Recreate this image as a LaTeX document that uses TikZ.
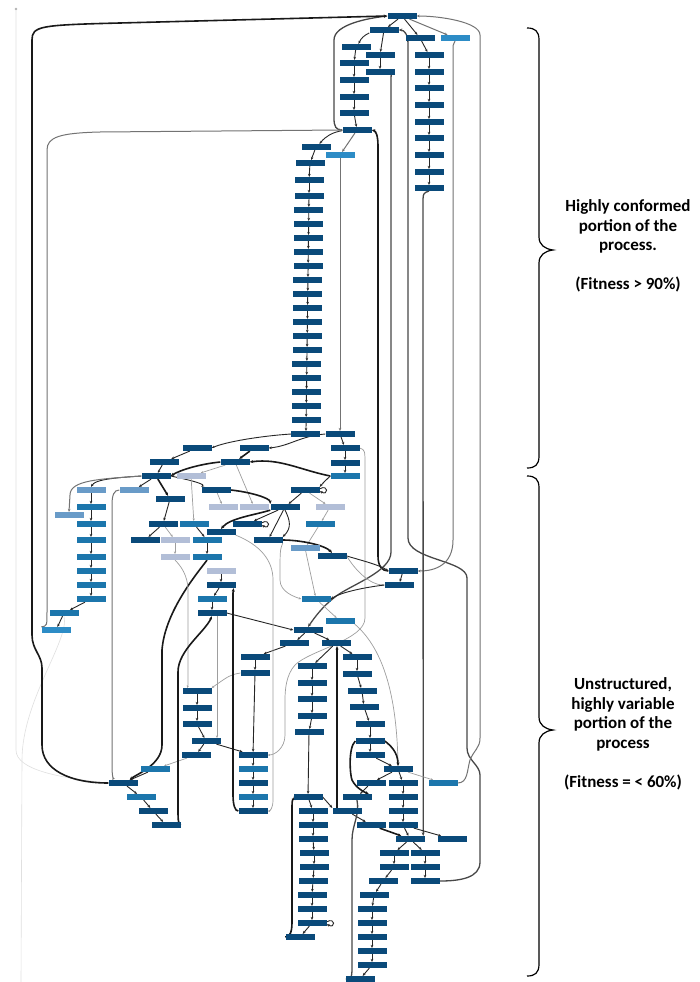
\documentclass[tikz,border=0pt]{standalone}
\usepackage{fontspec}
\newfontfamily\carl{Carlito}
\usetikzlibrary{arrows.meta,backgrounds}
\definecolor{cdk}{RGB}{10,74,122}
\definecolor{cmd}{RGB}{28,118,172}
\definecolor{clb}{RGB}{45,140,198}
\definecolor{cst}{RGB}{105,155,200}
\definecolor{clg}{RGB}{178,190,215}
\begin{document}
\begin{tikzpicture}[x=1pt,y=-1pt,
 box/.style={rectangle,minimum width=29pt,minimum height=5.8pt,inner sep=0pt},
 dk/.style={box,fill=cdk}, md/.style={box,fill=cmd}, lb/.style={box,fill=clb},
 st/.style={box,fill=cst}, lg/.style={box,fill=clg},
 ea/.style={-{Stealth[length=3pt,width=2.6pt]},line width=0.9pt,black!85},
 eb/.style={-{Stealth[length=3.5pt,width=3pt]},line width=1.6pt,black!90},
 ed/.style={-{Stealth[length=3.5pt,width=3pt]},line width=1.3pt,black!72},
 eg/.style={-{Stealth[length=3pt,width=2.6pt]},line width=1pt,black!55},
 el/.style={-{Stealth[length=2.5pt,width=2.2pt]},line width=0.7pt,black!38},
 ef/.style={line width=0.6pt,black!12},
 brace/.style={line width=1.2pt,black},
 lbl/.style={font=\carl\bfseries\fontsize{17}{19.5}\selectfont,align=center}]
\useasboundingbox (0,0) rectangle (700,982);
% ---------------- nodes: top part
\node[dk] (n1) at (402,16) {};
\node[dk] (n2) at (384,30) {};
\node[dk] (n3) at (420,38) {};
\node[lb] (n4) at (455,38) {};
\node[dk] (n5) at (356,47) {};
\node[dk] (n6) at (380,55) {};
\node[dk] (n7) at (429,55) {};
\node[dk] (n8) at (354,63) {};
\node[dk] (n9) at (380,72) {};
\node[dk] (n10) at (429,72) {};
\node[dk] (n11) at (354,80) {};
\node[dk] (n12) at (429,88) {};
\node[dk] (n13) at (354,97) {};
\node[dk] (n14) at (429,105) {};
\node[dk] (n15) at (354,113) {};
\node[dk] (n16) at (429,122) {};
\node[dk] (n17) at (357,130) {};
\node[dk] (n18) at (429,138) {};
\node[dk] (n19) at (316,147) {};
\node[lb] (n20) at (340,155) {};
\node[dk] (n21) at (429,155) {};
\node[dk] (n22) at (310,163) {};
\node[dk] (n23) at (429,172) {};
\node[dk] (n24) at (309,180) {};
\node[dk] (n25) at (429,188) {};
\foreach \i in {1,...,18} {\node[dk] (c\i) at ({309-0.18*(\i-1)},{196+14*(\i-1)}) {};}
\node[dk] (n26) at (340,434) {};
\node[dk] (n27) at (345,448) {};
\node[dk] (n28) at (345,463) {};
\node[md] (n29) at (345,476) {};
% ---------------- nodes: lower part
\node[dk] (m1) at (197,448) {};
\node[dk] (m2) at (254,448) {};
\node[dk] (m3) at (164,462) {};
\node[dk] (m4) at (235,462) {};
\node[dk] (m5) at (156,476) {};
\node[lg] (m6) at (191,476) {};
\node[st] (m7) at (91,490) {};
\node[st] (m8) at (134,490) {};
\node[dk] (m9) at (216,490) {};
\node[dk] (m10) at (305,490) {};
\node[dk] (m11) at (170,499) {};
\node[md] (m12) at (91,507) {};
\node[lg] (m13) at (223,507) {};
\node[lg] (m14) at (254,507) {};
\node[dk] (m15) at (285,507) {};
\node[lg] (m16) at (330,507) {};
\node[st] (m17) at (69,515) {};
\node[md] (m18) at (91,524) {};
\node[dk] (m19) at (163,524) {};
\node[md] (m20) at (194,524) {};
\node[dk] (m21) at (247,524) {};
\node[md] (m22) at (320,524) {};
\node[dk] (m23) at (221,532) {};
\node[md] (m24) at (91,540) {};
\node[dk] (m25) at (145,540) {};
\node[lg] (m26) at (175,540) {};
\node[md] (m27) at (207,540) {};
\node[dk] (m28) at (268,540) {};
\node[st] (m29) at (305,548) {};
\node[dk] (m30) at (332,556) {};
\node[md] (m31) at (91,557) {};
\node[lg] (m32) at (175,557) {};
\node[md] (m33) at (207,557) {};
\node[md] (m34) at (91,571) {};
\node[lg] (m35) at (221,571) {};
\node[dk] (m36) at (403,571) {};
\node[md] (m37) at (91,585) {};
\node[dk] (m38) at (221,585) {};
\node[dk] (m39) at (399,585) {};
\node[md] (m40) at (91,599) {};
\node[md] (m41) at (212,599) {};
\node[md] (m42) at (316,599) {};
\node[md] (m43) at (64,613) {};
\node[dk] (m44) at (212,613) {};
\node[lb] (m45) at (56,630) {};
\node[md] (m46) at (340,621) {};
\node[dk] (m47) at (308,630) {};
\node[dk] (m48) at (294,643) {};
\node[dk] (m49) at (336,643) {};
\node[dk] (m50) at (255,657) {};
\node[dk] (m51) at (357,657) {};
\node[dk] (m52) at (312,666) {};
\node[dk] (m53) at (357,674) {};
\node[dk] (m54) at (255,673) {};
\node[dk] (m55) at (312,683) {};
\node[dk] (m56) at (362,691) {};
\node[dk] (m57) at (197,691) {};
\node[dk] (m58) at (312,699) {};
\node[dk] (m59) at (364,707) {};
\node[dk] (m60) at (197,708) {};
\node[dk] (m61) at (312,716) {};
\node[dk] (m62) at (370,724) {};
\node[dk] (m63) at (197,724) {};
\node[dk] (m64) at (309,732) {};
\node[dk] (m65) at (370,741) {};
\node[dk] (m66) at (206,741) {};
\node[dk] (m67) at (196,755) {};
\node[dk] (m68) at (253,755) {};
\node[dk] (m69) at (370,755) {};
\node[md] (m70) at (155,769) {};
\node[md] (m71) at (253,769) {};
\node[dk] (m72) at (398,769) {};
\node[dk] (m73) at (123,783) {};
\node[dk] (m74) at (253,783) {};
\node[dk] (m75) at (371,783) {};
\node[dk] (m76) at (403,783) {};
\node[md] (m77) at (443,783) {};
\node[md] (m78) at (141,797) {};
\node[md] (m79) at (253,797) {};
\node[dk] (m80) at (308,797) {};
\node[dk] (m81) at (357,797) {};
\node[dk] (m82) at (403,797) {};
\node[dk] (m83) at (153,811) {};
\node[dk] (m84) at (253,811) {};
\node[dk] (m85) at (313,811) {};
\node[dk] (m86) at (347,811) {};
\node[dk] (m87) at (403,811) {};
\node[dk] (m88) at (166,825) {};
\node[dk] (m89) at (313,825) {};
\node[dk] (m90) at (371,825) {};
\node[dk] (m91) at (403,825) {};
\node[dk] (m92) at (313,839) {};
\node[dk] (m93) at (410,839) {};
\node[dk] (m94) at (452,839) {};
\node[dk] (m95) at (314,853) {};
\node[dk] (m96) at (394,853) {};
\node[dk] (m97) at (425,853) {};
\node[dk] (m98) at (314,867) {};
\node[dk] (m99) at (394,867) {};
\node[dk] (m100) at (425,867) {};
\node[dk] (m101) at (313,881) {};
\node[dk] (m102) at (383,881) {};
\node[dk] (m103) at (425,881) {};
\node[dk] (m104) at (312,895) {};
\node[dk] (m105) at (374,895) {};
\node[dk] (m106) at (312,909) {};
\node[dk] (m107) at (372,909) {};
\node[dk] (m108) at (312,923) {};
\node[dk] (m109) at (372,923) {};
\node[dk] (m110) at (300,937) {};
\node[dk] (m111) at (372,937) {};
\node[dk] (m112) at (372,951) {};
\node[dk] (m113) at (372,965) {};
\node[dk] (m114) at (360,979) {};
\node[circle,fill=black!30,inner sep=0pt,minimum size=2.6pt] (dot) at (16,9) {};
\coordinate (fend) at (21,982);
% ---------------- labels and braces
\node[lbl] (t1) at (628,246) {Highly conformed\\portion of the\\process.\\[19.5pt](Fitness > 90\%)};
\node[lbl] (t2) at (623,734) {Unstructured,\\highly variable\\portion of the\\process\\[19.5pt](Fitness = < 60\%)};
\draw[brace] (527,28) .. controls (535,28) and (539,31) .. (539,40) -- (539,237) .. controls (539,245) and (545,249) .. (553,250) .. controls (545,251) and (539,255) .. (539,263) -- (539,456) .. controls (539,465) and (535,468) .. (527,468);
\draw[brace] (527,476) .. controls (535,476) and (539,479) .. (539,488) -- (539,717) .. controls (539,725) and (545,729) .. (553,730) .. controls (545,731) and (539,735) .. (539,743) -- (539,964) .. controls (539,973) and (535,976) .. (527,976);
% ---------------- connectors (behind nodes)
\begin{pgfonlayer}{background}
\fill[white] (0,0) rectangle (700,982);
\draw[ef] (dot) -- (16,750) .. controls (16,770) and (60,778) .. (m73.west);
\draw[ef] (m43.south) .. controls (70,640) and (22,700) .. (22,760) -- (fend);
% top
\draw[ea] (n1) -- (n2);
\draw[ea] (n1) -- (n3);
\draw[eg] (n1) -- (n4);
\draw[ea] (n2) to[bend right=20] (n5);
\draw[ea] (n2) -- (n6);
\foreach \a/\b in {n5/n8,n8/n11,n11/n13,n13/n15,n15/n17,n6/n9,n3/n7,n7/n10,n10/n12,n12/n14,n14/n16,n16/n18,n18/n21,n21/n23,n23/n25,n19/n22,n22/n24,n24/c1,n26/n27,n27/n28,n28/n29}
  \draw[ea] (\a) -- (\b);
\foreach \i [evaluate=\i as \j using int(\i+1)] in {1,...,17} \draw[ea] (c\i) -- (c\j);
\draw[ea] (n17) to[bend right=20] (n19);
\draw[eg] (n17) -- (n20);
\draw[eg] (n20) -- (n26);
% long lines
\draw[ed] (n17.west) .. controls (336,130) and (334,127) .. (334,118) -- (334,40) .. controls (334,24) and (370,18) .. (n1.west);
\draw[eb] (m73.west) .. controls (70,783) and (42,770) .. (42,745) -- (42,668) .. controls (42,655) and (32,650) .. (32,635) -- (32,40) .. controls (32,26) and (40,25) .. (120,23) -- (n1.west);
\draw[eg] (m45.north west) .. controls (47,626) .. (47,612) -- (47,150) .. controls (47,137) and (60,133) .. (100,132) -- (n17.west);
\draw[eb] (m36.west) .. controls (382,571) and (378,566) .. (378,556) -- (378,146) .. controls (378,136) and (376,131) .. (n17.east);
\draw[ed] (n9.east) .. controls (391,72) .. (391,84) -- (391,552) .. controls (391,572) and (350,585) .. (335,597) .. controls (322,607) and (315,617) .. (m47.north);
\draw[ed] (m103.east) .. controls (460,881) and (480,878) .. (480,862) -- (480,775) .. controls (480,765) and (467,760) .. (467,748) -- (467,578) .. controls (467,560) and (408,560) .. (408,538) -- (408,44) .. controls (408,34) and (404,30) .. (n2.east);
\draw[eg] (m77.east) .. controls (468,783) and (467,770) .. (470,760) .. controls (474,750) and (480,748) .. (480,738) -- (480,35) .. controls (480,22) and (440,16) .. (n1.east);
\draw[eg] (n4.south) .. controls (453,44) .. (453,55) -- (453,540) .. controls (453,565) and (435,571) .. (m36.east);
\draw[ed] (n25.south) .. controls (423,193) .. (423,205) -- ([xshift=-1.5pt]m93.north east);
\draw[el] (n27.east) .. controls (365,450) .. (365,466) -- (365,618) .. controls (365,640) and (310,650) .. (295,665) .. controls (286,675) and (285,690) .. (285,700) -- (285,735) .. controls (285,748) and (275,755) .. (m68.east);
% tangle
\draw[ea] (n26.west) .. controls (300,436) and (290,446) .. (m2.east);
\draw[ea] (c18.west) .. controls (260,436) and (225,442) .. (m1.east);
\draw[ea] (n29.west) .. controls (328,478) and (322,484) .. (m10.north east);
\draw[eb] (n29.west) .. controls (300,470) and (280,458) .. (m4.east);
\draw[eb] (m2) -- (m4);
\draw[ea] (m1) -- (m3);
\draw[ea] (m3) -- (m5);
\draw[eb] (m4.west) .. controls (200,464) and (180,470) .. (m5.east);
\draw[el] (m4) -- (m6);
\draw[ea] (m5.west) .. controls (110,478) and (95,480) .. (m7.north);
\draw[eg] (m5.west) .. controls (100,479) and (70,480) .. (70,495) -- (m17.north);
\draw[ea] (m5) -- (m8);
\draw[eb] (m5) -- (m11);
\draw[ea] (m5.east) .. controls (190,480) and (205,484) .. (m9.north west);
\draw[eg] (m8.west) .. controls (114,490) and (112,495) .. (112,505) -- (112,765) .. controls (112,775) and (113,779) .. ([xshift=4pt]m73.north west);
\foreach \a/\b in {m7/m12,m12/m18,m18/m24,m24/m31,m31/m34,m34/m37,m37/m40,m40/m43,m43/m45,m11/m19,m19/m25,m20/m27,m27/m33,m15/m21,m15/m28,m10/m15,m36/m39,m35/m38,m38/m41,m41/m44,m47/m48,m47/m49,m48/m50,m50/m54,m49/m51,m49/m52,m52/m55,m55/m58,m58/m61,m61/m64,m64/m80,m51/m53,m53/m56,m56/m59,m59/m62,m62/m65,m65/m69,m69/m72,m72/m75,m72/m76,m75/m81,m76/m82,m82/m87,m87/m91,m80/m85,m85/m89,m89/m92,m92/m95,m95/m98,m98/m101,m101/m104,m104/m106,m106/m108,m108/m110,m86/m90,m91/m93,m91/m94,m93/m96,m93/m97,m96/m99,m99/m102,m102/m105,m105/m107,m107/m109,m109/m111,m111/m112,m112/m113,m113/m114,m97/m100,m100/m103,m68/m71,m71/m74,m74/m79,m79/m84,m66/m67,m66/m68,m70/m73,m73/m78,m78/m83,m83/m88,m57/m60,m60/m63,m63/m66,m54/m68}
  \draw[ea] (\a) -- (\b);
\foreach \a/\b in {m19/m26,m6/m20,m26/m32,m9/m13,m4/m14,m10/m16,m16/m22,m22/m29,m29/m42,m42/m46,m72/m77,m67/m70}
  \draw[el] (\a) -- (\b);
\draw[eb] (m9.east) .. controls (250,492) and (270,498) .. (m15.north west);
\draw[eb] (m15.south west) .. controls (255,515) and (230,518) .. (m23.north);
\draw[eb] (m28.east) .. controls (300,540) and (325,545) .. (m30.north);
\draw[ea] (m30.east) .. controls (360,560) and (380,565) .. (m36.west);
\draw[el] (m30.east) .. controls (355,570) and (370,585) .. (m39.west);
\draw[ea] (m39.west) .. controls (360,588) and (340,593) .. (m42.east);
\draw[el] (m28.south east) .. controls (280,550) .. (280,580) .. controls (280,592) and (295,597) .. (m42.west);
\draw[el] (m46.south east) .. controls (385,650) and (397,700) .. (m72.north);
\draw[eb] (m33.south) .. controls (200,570) and (165,610) .. (162,650) -- (162,745) .. controls (162,765) and (135,775) .. ([xshift=-8pt]m73.north east);
\draw[el] (m32.south) .. controls (180,565) and (188,575) .. (188,590) -- (188,680) .. controls (188,685) .. ([xshift=5pt]m57.north west);
\draw[eb] (m88.east) .. controls (178,825) and (178,818) .. (178,808) -- (178,672) .. controls (178,650) and (205,632) .. (m44.south);
\draw[ea] (m44.east) -- (m47.west);
\draw[el] ([xshift=5pt]m44.south) -- ([xshift=11pt]m66.north);
\draw[el] (m54.west) .. controls (230,675) .. (m57.north east);
\draw[eb] (m65.east) .. controls (390,745) and (398,752) .. (m72.north);
\draw[eb] (m65.west) .. controls (348,748) and (350,775) .. (352,780) .. controls (356,788) and (364,792) .. ([xshift=-3pt]m81.north east);
\draw[ed] (m81.south) .. controls (360,815) and (352,825) .. (352,840) -- (352,965) .. controls (352,975) and (352,979) .. (m114.west);
\draw[eb] (m110.west) .. controls (290,937) and (292,932) .. (292,922) -- (292,806) .. controls (292,800) and (293,798) .. ([xshift=2pt]m80.south west);
\draw[ea] (m80.east) -- (m86.north west);
\draw[eb] ([xshift=-10pt]m86.north) -- ([xshift=1pt]m49.south);
\draw[eb] (m90) -- (m93);
\draw[eb] (m84.west) .. controls (235,811) and (233,805) .. (233,795) -- (233,600) .. controls (233,592) .. ([xshift=-2pt]m38.south east);
\draw[el] (m23.south east) .. controls (260,545) and (273,560) .. (273,580) -- (273,800) .. controls (273,808) and (270,811) .. (m84.east);
\draw[ea] (m15.south) .. controls (290,520) and (292,528) .. (m28.north east);
% self loops
\draw[ea] ([yshift=1.2pt]m10.east) .. controls +(9,-5) and +(9,5) .. ([yshift=-1.2pt]m10.east);
\draw[ea] ([yshift=1.2pt]m21.east) .. controls +(9,-5) and +(9,5) .. ([yshift=-1.2pt]m21.east);
\draw[ea] ([yshift=1.2pt]m108.east) .. controls +(9,-5) and +(9,5) .. ([yshift=-1.2pt]m108.east);
\end{pgfonlayer}
\end{tikzpicture}
\end{document}
